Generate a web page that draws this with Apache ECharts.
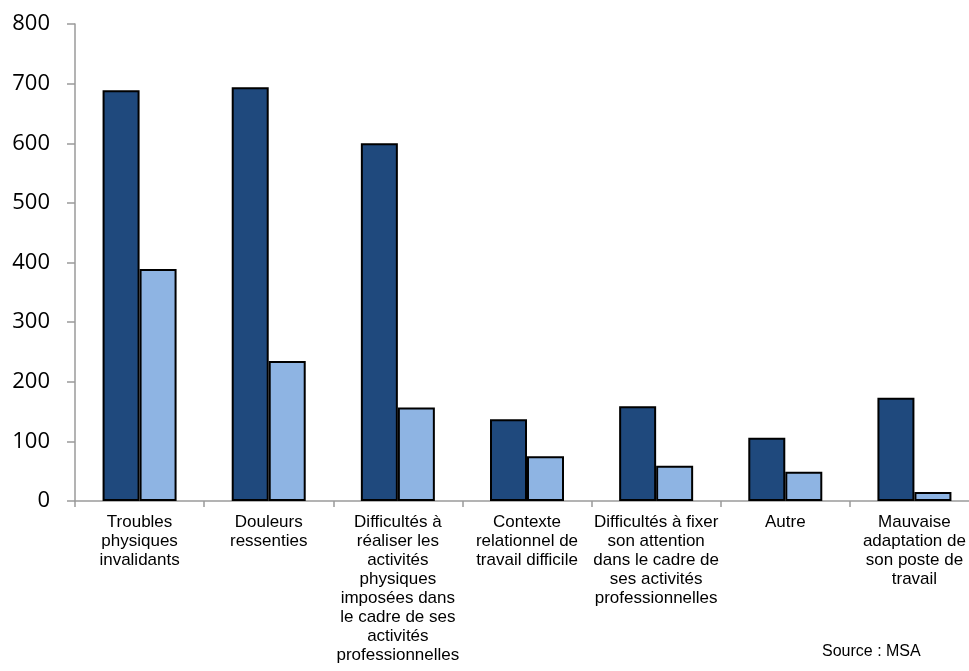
<!DOCTYPE html>
<html>
<head>
<meta charset="utf-8">
<script src="https://cdn.jsdelivr.net/npm/echarts@6/dist/echarts.min.js"></script>
<style>
html,body{margin:0;padding:0;background:#fff;overflow:hidden;width:969px;height:671px;}
#chart{width:979px;height:671px;}
</style>
</head>
<body>
<div id="chart"></div>
<script>
const categories = [
  "Troubles\nphysiques\ninvalidants",
  "Douleurs\nressenties",
  "Difficultés à\nréaliser les\nactivités\nphysiques\nimposées dans\nle cadre de ses\nactivités\nprofessionnelles",
  "Contexte\nrelationnel de\ntravail difficile",
  "Difficultés à fixer\nson attention\ndans le cadre de\nses activités\nprofessionnelles",
  "Autre",
  "Mauvaise\nadaptation de\nson poste de\ntravail"
];
const seriesDark = [689, 694, 600, 137, 159, 106, 173];
const seriesLight = [389, 235, 157, 75, 59, 49, 15];
const yTicks = [0, 100, 200, 300, 400, 500, 600, 700, 800];
const sourceText = "Source : MSA";

const chart = echarts.init(document.getElementById('chart'), null, {renderer: 'canvas'});
chart.setOption({
  animation: false,
  backgroundColor: '#ffffff',
  grid: {left: 75, top: 24, right: 0, bottom: 170, containLabel: false},
  xAxis: {
    type: 'category',
    data: categories,
    boundaryGap: true,
    axisLine: {show: true, lineStyle: {color: '#9a9a9a', width: 1.5}},
    axisTick: {show: true, length: 6, lineStyle: {color: '#9a9a9a', width: 1.5}},
    axisLabel: {
      interval: 0,
      margin: 12,
      color: '#000',
      fontFamily: 'Liberation Sans, Arial, sans-serif',
      fontSize: 17,
      lineHeight: 19,
      align: 'center'
    }
  },
  yAxis: {
    type: 'value',
    min: yTicks[0],
    max: yTicks[yTicks.length - 1],
    interval: 100,
    splitLine: {show: false},
    axisLine: {show: true, lineStyle: {color: '#9a9a9a', width: 1.5}},
    axisTick: {show: true, inside: false, length: 8, lineStyle: {color: '#9a9a9a', width: 1.5}},
    axisLabel: {
      margin: 25,
      color: '#000',
      fontFamily: 'Open Sans, sans-serif',
      fontSize: 22
    }
  },
  series: [
    {
      name: 'Série 1',
      type: 'bar',
      data: seriesDark,
      barWidth: 37,
      barGap: '0%',
      itemStyle: {color: '#1F497D', borderColor: '#000', borderWidth: 2}
    },
    {
      name: 'Série 2',
      type: 'bar',
      data: seriesLight,
      barWidth: 37,
      barGap: '0%',
      itemStyle: {color: '#8EB4E3', borderColor: '#000', borderWidth: 2}
    }
  ],
  graphic: [
    {
      type: 'text',
      left: 822,
      top: 644,
      style: {
        text: sourceText,
        fill: '#000',
        font: '16px "Liberation Sans", Arial, sans-serif'
      }
    }
  ]
});
</script>
</body>
</html>
